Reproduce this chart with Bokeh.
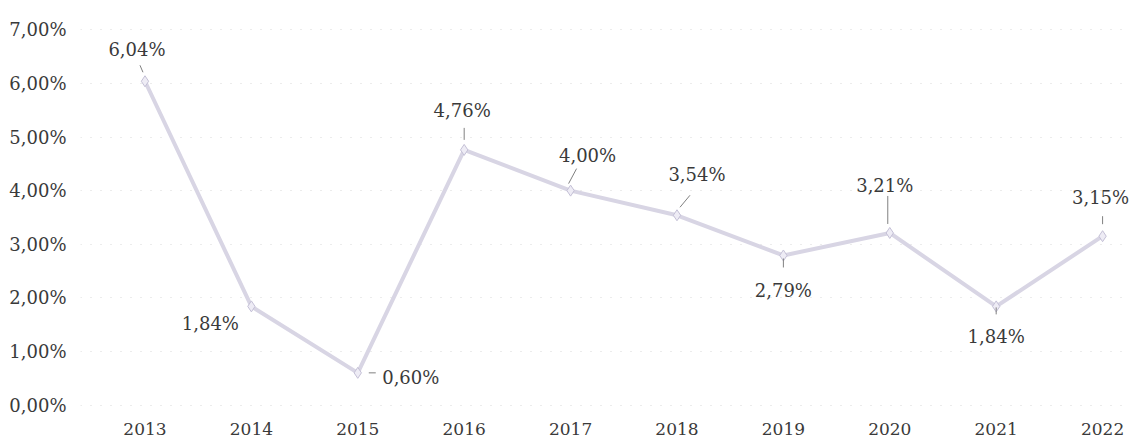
from bokeh.plotting import figure
from bokeh.models import Range1d, FixedTicker, ColumnDataSource
from bokeh.core.properties import value
from bokeh.embed import file_html
from bokeh.resources import INLINE

# ---- data ----
years = [2013, 2014, 2015, 2016, 2017, 2018, 2019, 2020, 2021, 2022]
rates = [6.04, 1.84, 0.60, 4.76, 4.00, 3.54, 2.79, 3.21, 1.84, 3.15]
y_ticks = [0, 1, 2, 3, 4, 5, 6, 7]

labels = [f"{v:.2f}".replace(".", ",") + "%" for v in rates]
year_labels = [str(y) for y in years]

# ---- layout constants (pixels) ----
W, H = 1129, 440
BL, BR, BT, BB = 80, 0, 18, 0
X0, X1 = 2012.394, 2022.253
Y0, Y1 = -0.662, 7.211
px_x = (W - BL - BR) / (X1 - X0)
px_y = (H - BT - BB) / (Y1 - Y0)

# label offsets in screen pixels (dx, dy; dy positive = down)
lab_dx = [-8, -41, 53, -2, 17, 20, 0, -5, 0, -2]
lab_dy = [-32, 17, 5, -39, -35, -41, 35, -47, 30, -39]
# leader lines in pixels relative to the point: (dx0, dy0, dx1, dy1)
leaders = [(-2, -9, -5, -16), None, (11, 0, 18, 0), (0, -10, 0, -22),
           (-2, -7, 6, -22), (3, -8, 13, -20), (0, 3, 0, 12),
           (-2, -9, -2, -37), (0, 1, 0, 8), (0, -12, 0, -20)]

p = figure(width=W, height=H, output_backend="svg", toolbar_location=None,
           x_range=Range1d(X0, X1), y_range=Range1d(Y0, Y1),
           min_border_left=BL, min_border_right=BR, min_border_top=BT,
           min_border_bottom=BB)
p.outline_line_color = None
p.background_fill_color = "#ffffff"
p.border_fill_color = "#ffffff"

font = "DejaVu Serif"
txt_col = "#3a3a3a"

# axes
p.xaxis.visible = False
p.yaxis.ticker = FixedTicker(ticks=y_ticks)
p.yaxis.major_label_overrides = {t: f"{t:.2f}".replace(".", ",") + "%" for t in y_ticks}
ax = p.yaxis[0]
ax.axis_line_color = None
ax.major_tick_line_color = None
ax.minor_tick_line_color = None
ax.major_label_text_font = font
ax.major_label_text_font_size = "18px"
ax.major_label_text_color = txt_col
ax.major_label_standoff = 8

p.xgrid.grid_line_color = None
p.ygrid.grid_line_color = "#d8d8d8"
p.ygrid.grid_line_dash = "1 9"
p.ygrid.grid_line_width = 1

src = ColumnDataSource(dict(x=years, y=rates, t=labels, dx=lab_dx, dy=lab_dy))

p.line("x", "y", source=src, line_color="#d8d5e4", line_width=4)
p.scatter("x", "y", source=src, marker="diamond", size=11,
          fill_color="#eeecf5", line_color="#c4c0d6", line_width=1)

# leader lines
lx0, ly0, lx1, ly1 = [], [], [], []
for yr, v, ld in zip(years, rates, leaders):
    if ld is None:
        continue
    a, b, c, d = ld
    lx0.append(yr + a / px_x)
    ly0.append(v - b / px_y)
    lx1.append(yr + c / px_x)
    ly1.append(v - d / px_y)
p.segment(lx0, ly0, lx1, ly1, line_color="#808080", line_width=1)

p.text("x", "y", text="t", source=src, x_offset="dx", y_offset="dy",
       text_align="center", text_baseline="middle",
       text_font=value(font), text_font_size="18px", text_color=txt_col)

# category labels along the bottom
p.text(x=years, y=[0] * len(years), text=year_labels, y_offset=24,
       text_align="center", text_baseline="middle",
       text_font=value(font), text_font_size="17px", text_color=txt_col)

open("out.html", "w").write(file_html(p, INLINE))
